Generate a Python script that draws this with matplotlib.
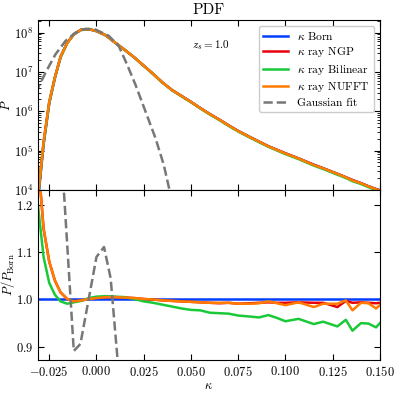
import numpy as np
import matplotlib
matplotlib.use('Agg')
import matplotlib.pyplot as plt

plt.rcParams['font.family'] = 'serif'
plt.rcParams['font.serif'] = ['cmr10', 'DejaVu Serif']
plt.rcParams['mathtext.fontset'] = 'cm'
plt.rcParams['axes.formatter.use_mathtext'] = True
plt.rcParams['axes.unicode_minus'] = True

# kappa grid shared by all simulated PDFs
kappa = [-0.031, -0.028, -0.025, -0.022, -0.019, -0.0155, -0.012, -0.008, -0.004, 0.0,
         0.005, 0.010, 0.015, 0.020, 0.025, 0.030, 0.035, 0.040, 0.045, 0.050,
         0.055, 0.060, 0.065, 0.070, 0.075, 0.081, 0.086, 0.091, 0.0955, 0.100,
         0.107, 0.115, 0.120, 0.1275, 0.132, 0.1355, 0.140, 0.144, 0.148, 0.150]

# log10 of the Born PDF
log_pdf_born = [3.70, 5.15, 6.20, 6.85, 7.38, 7.74, 7.96, 8.08, 8.09, 8.04,
                7.93, 7.74, 7.56, 7.37, 7.16, 6.95, 6.73, 6.54, 6.39, 6.24,
                6.08, 5.93, 5.79, 5.64, 5.50, 5.35, 5.23, 5.11, 5.02, 4.93,
                4.80, 4.64, 4.55, 4.41, 4.32, 4.25, 4.17, 4.09, 4.02, 3.99]

# ratios P / P_Born
ratio_ngp = [1.30, 1.15, 1.08, 1.04, 1.015, 1.001, 0.996, 0.998, 1.001, 1.003,
             1.005, 1.005, 1.004, 1.003, 1.001, 1.000, 0.998, 0.997, 0.996, 0.995,
             0.994, 0.993, 0.992, 0.993, 0.991, 0.992, 0.993, 0.994, 0.993, 0.993,
             0.994, 0.993, 0.993, 0.984, 0.997, 0.993, 0.994, 0.993, 0.992, 0.993]
ratio_bilinear = [1.20, 1.09, 1.035, 1.01, 0.996, 0.991, 0.994, 0.997, 1.003, 1.006,
                  1.007, 1.006, 1.005, 1.001, 0.996, 0.993, 0.989, 0.985, 0.981, 0.978,
                  0.977, 0.972, 0.971, 0.970, 0.966, 0.964, 0.962, 0.967, 0.961, 0.954,
                  0.959, 0.948, 0.953, 0.943, 0.957, 0.934, 0.950, 0.949, 0.941, 0.950]
ratio_nufft = [1.30, 1.15, 1.08, 1.04, 1.015, 1.001, 0.996, 0.998, 1.001, 1.003,
               1.005, 1.005, 1.004, 1.003, 1.001, 1.000, 0.998, 0.997, 0.996, 0.995,
               0.994, 0.993, 0.993, 0.993, 0.991, 0.991, 0.992, 0.996, 0.992, 0.988,
               0.994, 0.984, 0.991, 0.991, 0.998, 0.977, 0.993, 0.992, 0.981, 0.988]

# Gaussian fit
kappa_gauss = [-0.0322, -0.027, -0.0217, -0.0164, -0.0111, -0.0058, -0.0005, 0.0065,
               0.0118, 0.0162, 0.0206, 0.0259, 0.0312, 0.0356, 0.0382, 0.040]
log_pdf_gauss = [6.47, 6.98, 7.45, 7.79, 8.00, 8.10, 8.08, 7.92,
                 7.66, 7.19, 6.68, 6.00, 5.32, 4.64, 4.09, 3.70]
kappa_gauss_ratio = [-0.0185, -0.012, -0.0085, 0.0, 0.004, 0.0075, 0.013]
gauss_ratio = [1.31, 0.891, 0.906, 1.09, 1.111, 1.045, 0.787]

k = np.array(kappa)
p_born = 10 ** np.array(log_pdf_born)

c_blue, c_red, c_green, c_orange = '#023eff', '#e8000b', '#1ac938', '#ff7c00'
lw = 1.8

fig = plt.figure(figsize=(3.99, 3.93), dpi=100)
ax1 = fig.add_axes([0.095, 0.517, 0.857, 0.432])
ax2 = fig.add_axes([0.095, 0.084, 0.857, 0.433], sharex=ax1)

ax1.plot(k, p_born, color=c_blue, lw=lw, label=r'$\kappa$ Born')
ax1.plot(k, p_born * np.array(ratio_ngp), color=c_red, lw=lw, label=r'$\kappa$ ray NGP')
ax1.plot(k, p_born * np.array(ratio_bilinear), color=c_green, lw=lw, label=r'$\kappa$ ray Bilinear')
ax1.plot(k, p_born * np.array(ratio_nufft), color=c_orange, lw=lw, label=r'$\kappa$ ray NUFFT')
ax1.plot(kappa_gauss, 10 ** np.array(log_pdf_gauss), color='#777777', lw=lw, ls='--',
         label='Gaussian fit')
ax1.set_yscale('log')
ax1.set_ylim(1e4, 2.1e8)
ax1.set_ylabel(r'$P$', fontsize=9)
ax1.yaxis.set_label_coords(-0.072, 0.5)
ax1.set_title('PDF', fontsize=11, pad=4)
ax1.text(0.45, 0.85, r'$z_s = 1.0$', transform=ax1.transAxes, fontsize=8, va='center')
ax1.legend(loc='upper right', fontsize=8.3, frameon=True, fancybox=True,
           edgecolor='#cccccc', framealpha=1.0, handlelength=2.2,
           borderpad=0.35, labelspacing=0.3, handletextpad=0.8)
plt.setp(ax1.get_xticklabels(), visible=False)

ax2.axhline(1.0, color=c_blue, lw=lw)
ax2.plot(k, ratio_ngp, color=c_red, lw=lw)
ax2.plot(k, ratio_bilinear, color=c_green, lw=lw)
ax2.plot(k, ratio_nufft, color=c_orange, lw=lw)
ax2.plot(kappa_gauss_ratio, gauss_ratio, color='#777777', lw=lw, ls='--')
ax2.set_ylim(0.872, 1.232)
ax2.set_yticks([0.9, 1.0, 1.1, 1.2])
ax2.set_xlim(-0.031, 0.15)
ax2.set_xticks([-0.025, 0.0, 0.025, 0.05, 0.075, 0.1, 0.125, 0.15])
ax2.set_xticklabels(['$-0.025$', '$0.000$', '$0.025$', '$0.050$', '$0.075$',
                     '$0.100$', '$0.125$', '$0.150$'])
ax2.set_xlabel(r'$\kappa$', fontsize=9, labelpad=1)
ax2.set_ylabel(r'$P/P_{\rm Born}$', fontsize=9)
ax2.yaxis.set_label_coords(-0.06, 0.5)

for ax in (ax1, ax2):
    ax.tick_params(which='both', direction='in', top=True, right=True, labelsize=9)
    ax.tick_params(which='major', length=4)
    ax.tick_params(which='minor', length=2)

fig.savefig('out.png', dpi=100)
